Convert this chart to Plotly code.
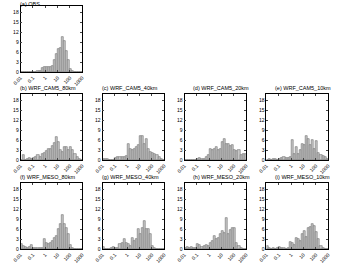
import plotly.graph_objects as go

# histogram bins: 6 bins per decade from 0.01 to 1000 (log10 -2 .. 3)
n_bins = 30
bin_centers = [-2 + (k + 0.5) / 6 for k in range(n_bins)]

tick_vals = [-2, -1, 0, 1, 2, 3]
tick_text = ["0.01", "0.1", "1", "10", "100", "1000"]
y_ticks = [0, 3, 6, 9, 12, 15, 18]

titles = ["(a) OBS", "(b) WRF_CAM5_80km", "(c) WRF_CAM5_40km", "(d) WRF_CAM5_20km",
          "(e) WRF_CAM5_10km", "(f) WRF_MESO_80km", "(g) WRF_MESO_40km",
          "(h) WRF_MESO_20km", "(i) WRF_MESO_10km"]

obs = [0, 0, 0, 0, 0, 0, 0.1, 0.2, 0.3, 0.4, 1.2, 1.5, 1.6, 1.7, 1.5, 2.0, 3.8, 5.6,
       7.0, 7.3, 10.5, 9.3, 6.3, 3.8, 1.0, 0.3, 0, 0, 0, 0]
cam5_80 = [0, 1.7, 0.2, 0.3, 0.6, 0.3, 0.6, 0.9, 1.7, 1.0, 2.0, 2.2, 2.8, 3.3, 3.3, 4.3,
           5.2, 7.1, 5.6, 3.0, 2.5, 4.0, 4.0, 3.0, 4.0, 3.0, 2.0, 1.0, 0.5, 0.1]
cam5_40 = [0.4, 0.5, 0.3, 0.1, 0.1, 0.1, 0.8, 1.0, 0.9, 1.0, 1.0, 1.2, 4.8, 3.3, 3.0, 3.5,
           4.0, 4.5, 7.2, 7.2, 5.0, 6.5, 3.5, 2.5, 2.2, 2.0, 1.5, 1.0, 0.5, 0.2]
cam5_20 = [0.2, 0.1, 0, 0, 0, 0, 0.5, 0.7, 0.5, 0.3, 1.0, 1.5, 3.5, 3.2, 3.5, 4.0,
           3.0, 3.5, 5.5, 6.5, 4.8, 5.0, 4.3, 4.5, 3.0, 2.7, 3.0, 1.5, 2.0, 1.8]
cam5_10 = [0.2, 0.3, 0.2, 0.4, 0.3, 0.2, 0.5, 0.7, 1.0, 0.8, 0.8, 1.0, 6.0, 2.0, 4.0, 2.0,
           3.0, 5.0, 4.5, 7.2, 6.5, 4.5, 6.0, 3.5, 5.8, 2.3, 1.5, 1.2, 1.0, 0.5]
meso_80 = [1.5, 1.0, 0.8, 0.5, 0.8, 1.2, 0.3, 0.5, 0.3, 0.5, 0.3, 3.0, 2.0, 1.5, 2.0, 2.5,
           3.5, 4.0, 6.0, 7.5, 10.3, 7.5, 6.3, 4.5, 1.2, 0.3, 0, 0, 0, 0]
meso_40 = [0.8, 0.1, 0.1, 0.1, 0.5, 0.8, 0.5, 0.5, 1.5, 2.0, 3.0, 2.0, 1.5, 1.0, 3.5, 2.5,
           3.0, 6.0, 4.5, 6.5, 8.5, 6.0, 6.2, 4.5, 1.0, 0.5, 0.2, 0, 0, 0]
meso_20 = [0.5, 0.8, 0.3, 0.8, 0.5, 0.3, 1.5, 1.2, 0.8, 1.0, 1.2, 1.0, 2.0, 2.5, 4.0, 3.0,
           3.5, 4.5, 5.5, 5.0, 9.3, 4.5, 5.8, 6.5, 6.5, 2.0, 1.0, 0.3, 0, 0]
meso_10 = [1.0, 0.3, 0.2, 0.3, 0.2, 0.5, 0.8, 0.5, 0.3, 0.2, 0.3, 2.2, 1.8, 1.3, 3.3, 3.0,
           2.5, 4.5, 5.5, 3.8, 6.5, 6.8, 7.5, 7.0, 5.3, 3.0, 1.0, 0.3, 0, 0]

series = [obs, cam5_80, cam5_40, cam5_20, cam5_10, meso_80, meso_40, meso_20, meso_10]

W, H = 337, 271
col_left = [12, 97, 182, 267]
title_left = [10, 95, 190, 275]
row_top = [6, 95, 185]
pw, ph = 64, 67
positions = [(0, 0), (1, 0), (1, 1), (1, 2), (1, 3), (2, 0), (2, 1), (2, 2), (2, 3)]

fig = go.Figure()
font = dict(family="Liberation Sans, Arial, sans-serif", size=5, color="black")
tfont = dict(family="Liberation Sans, Arial, sans-serif", size=5.5, color="black")

for i, (vals, (r, c)) in enumerate(zip(series, positions)):
    n = i + 1
    xa = "x" if n == 1 else f"x{n}"
    ya = "y" if n == 1 else f"y{n}"
    fig.add_trace(go.Bar(x=bin_centers, y=vals, width=1 / 6, xaxis=xa, yaxis=ya,
                         marker=dict(color="#c8c8c8", line=dict(color="#6e6e6e", width=0.6)),
                         showlegend=False))
    x0 = col_left[c] / W
    x1 = (col_left[c] + pw) / W
    y1 = 1 - row_top[r] / H
    y0 = 1 - (row_top[r] + ph) / H
    axkey = "xaxis" if n == 1 else f"xaxis{n}"
    aykey = "yaxis" if n == 1 else f"yaxis{n}"
    fig.layout[axkey] = dict(domain=[x0, x1], anchor=ya, range=[-2, 3], tickvals=tick_vals,
                             ticktext=tick_text, tickangle=-45, ticks="inside", ticklen=2,
                             tickwidth=0.6, showline=True, linecolor="black", linewidth=0.8,
                             mirror="ticks", showgrid=False, zeroline=False, tickfont=font)
    fig.layout[aykey] = dict(domain=[y0, y1], anchor=xa, range=[0, 20], tickvals=y_ticks,
                             ticks="inside", ticklen=2, tickwidth=0.6, showline=True,
                             linecolor="black", linewidth=0.8, mirror="ticks", showgrid=False,
                             zeroline=False, tickfont=font)
    if r == 0:
        fig.add_annotation(text=titles[i], xref="paper", yref="paper", x=title_left[c] / W,
                           y=1, xanchor="left", yanchor="top", showarrow=False, font=tfont,
                           borderpad=0)
    else:
        fig.add_annotation(text=titles[i], xref="paper", yref="paper", x=title_left[c] / W,
                           y=y1 + 1.5 / H, xanchor="left", yanchor="bottom", showarrow=False,
                           font=tfont, borderpad=0)

fig.update_layout(width=W, height=H, margin=dict(l=0, r=0, t=0, b=0),
                  paper_bgcolor="white", plot_bgcolor="white", bargap=0)
fig.write_html("out.html")
